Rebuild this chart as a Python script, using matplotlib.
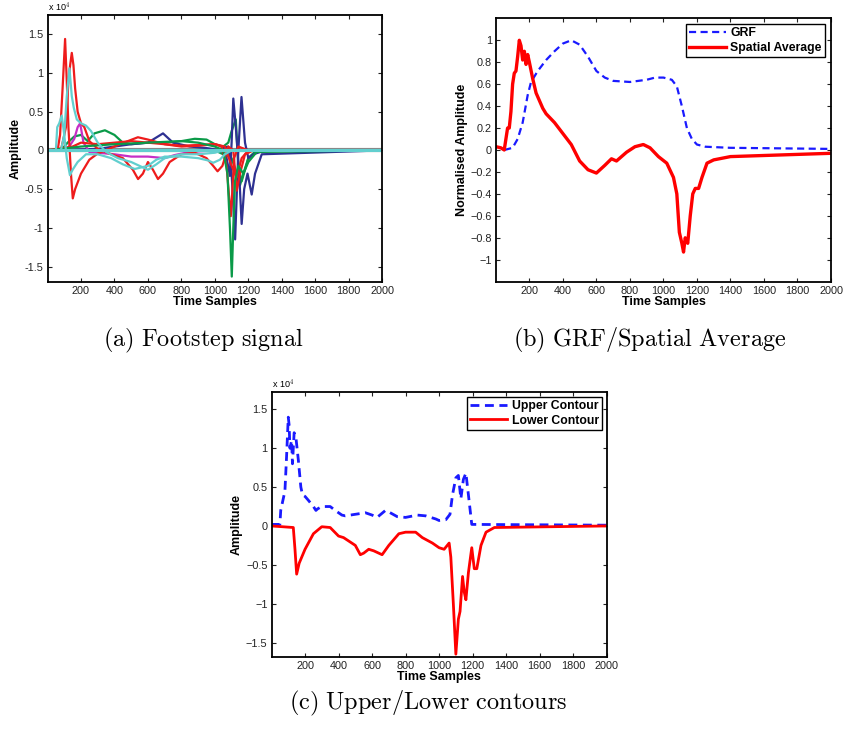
import numpy as np
import matplotlib
matplotlib.use('Agg')
import matplotlib.pyplot as plt

plt.rcParams['font.family'] = ['Liberation Sans', 'DejaVu Sans']
plt.rcParams['mathtext.fontset'] = 'cm'

# ---- data (amplitudes in units of 1e4) ----
time_ticks = [200, 400, 600, 800, 1000, 1200, 1400, 1600, 1800, 2000]
amp_ticks = [-1.5, -1, -0.5, 0, 0.5, 1, 1.5]
amp_labels = ['-1.5', '-1', '-0.5', '0', '0.5', '1', '1.5']
norm_ticks = [-1, -0.8, -0.6, -0.4, -0.2, 0, 0.2, 0.4, 0.6, 0.8, 1]

# (a) individual sensor traces
red1_t = [1, 60, 75, 90, 105, 115, 125, 140, 151, 165, 200, 250, 300, 400, 480, 540, 600, 700, 800, 900, 1000, 1040, 1070, 1085, 1095, 1105, 1115, 1140, 1200, 2000]
red1_v = [0, 0, 0.2, 0.8, 1.44, 0.9, 0.3, -0.3, -0.62, -0.5, -0.3, -0.12, -0.04, 0.05, 0.12, 0.17, 0.14, 0.08, 0.05, 0.06, 0.08, 0.05, -0.2, -0.6, -0.85, -0.5, -0.1, 0.05, 0, 0]
red2_t = [1, 80, 110, 125, 135, 145, 155, 165, 180, 200, 220, 250, 300, 380, 450, 510, 541, 570, 600, 630, 660, 690, 730, 800, 880, 950, 990, 1016, 1045, 1080, 1110, 1131, 1150, 1180, 1230, 2000]
red2_v = [0, 0, 0.3, 0.9, 1.1, 1.26, 1.1, 0.8, 0.5, 0.35, 0.3, 0.12, 0.02, -0.05, -0.1, -0.25, -0.37, -0.3, -0.15, -0.25, -0.37, -0.3, -0.15, -0.05, -0.03, -0.1, -0.2, -0.27, -0.2, 0.05, 0.0, -0.52, -0.3, -0.05, 0, 0]
red3_t = [1, 150, 200, 300, 400, 500, 600, 700, 800, 900, 1000, 1060, 1100, 1130, 1160, 1200, 2000]
red3_v = [0, 0.05, 0.1, 0.08, 0.1, 0.12, 0.1, 0.08, 0.06, 0.07, 0.08, 0.05, -0.2, -0.35, -0.1, 0, 0]
cyan1_t = [1, 50, 58, 70, 85, 100, 115, 134, 150, 180, 230, 300, 380, 450, 521, 560, 600, 650, 700, 800, 900, 960, 990, 1030, 1060, 1100, 2000]
cyan1_v = [0, 0, 0.3, 0.35, 0.45, 0.2, -0.1, -0.32, -0.25, -0.15, -0.05, -0.05, -0.1, -0.18, -0.24, -0.22, -0.2, -0.12, -0.08, -0.08, -0.1, -0.13, -0.16, -0.12, -0.05, 0, 0]
cyan2_t = [1, 80, 100, 115, 131, 145, 157, 175, 200, 230, 260, 300, 350, 420, 500, 550, 600, 650, 700, 800, 900, 1000, 1050, 2000]
cyan2_v = [0, 0, 0.2, 0.7, 1.06, 0.7, 0.55, 0.4, 0.35, 0.32, 0.25, 0.1, -0.02, -0.1, -0.15, -0.2, -0.25, -0.18, -0.1, -0.05, -0.05, -0.03, 0, 0]
green1_t = [1, 80, 120, 160, 200, 240, 280, 343, 400, 450, 500, 600, 700, 800, 880, 950, 1000, 1050, 1080, 1100, 1125, 1140, 1160, 1200, 1250, 2000]
green1_v = [0, 0, 0.1, 0.18, 0.2, 0.12, 0.22, 0.26, 0.2, 0.1, 0.08, 0.1, 0.1, 0.12, 0.15, 0.14, 0.08, 0.05, 0.1, 0.25, 0.4, -0.2, -0.4, -0.1, 0, 0]
green2_t = [1, 200, 400, 600, 800, 900, 1000, 1050, 1075, 1090, 1101, 1110, 1120, 1140, 1170, 1200, 1250, 2000]
green2_v = [0, 0.05, 0.08, 0.1, 0.12, 0.1, 0.05, 0.0, -0.3, -1.0, -1.63, -1.0, -0.4, -0.2, -0.3, -0.15, -0.02, 0]
green3_t = [1, 1000, 1100, 1130, 1150, 1170, 1200, 1250, 2000]
green3_v = [0, 0, -0.1, -0.3, -0.45, -0.3, -0.1, 0, 0]
navy1_t = [1, 300, 500, 600, 690, 750, 850, 950, 1040, 1070, 1090, 1100, 1110, 1125, 1145, 1160, 1175, 1195, 1220, 1240, 1280, 2000]
navy1_v = [0, 0.02, 0.08, 0.1, 0.22, 0.1, 0.05, 0.03, 0, -0.1, -0.33, 0.1, 0.67, 0.3, -0.3, -0.95, -0.5, -0.3, -0.57, -0.3, -0.05, 0]
navy2_t = [1, 1000, 1080, 1100, 1121, 1140, 1159, 1180, 1200, 1230, 1300, 2000]
navy2_v = [0, 0, 0.05, -0.3, -1.15, 0.0, 0.69, 0.1, -0.1, -0.05, 0, 0]
mag_t = [1, 100, 130, 160, 180, 195, 215, 250, 300, 400, 500, 600, 700, 760, 850, 1000, 2000]
mag_v = [0, 0, 0.05, 0.15, 0.3, 0.35, 0.1, -0.02, -0.03, -0.05, -0.08, -0.08, -0.1, -0.06, -0.02, 0, 0]
base_t = [1, 2000]
base_v = [0, 0]

# (b) normalised GRF and spatial average
grf_t = [50, 100, 130, 160, 190, 210, 250, 300, 350, 400, 450, 500, 550, 600, 650, 700, 800, 900, 950, 1000, 1050, 1080, 1110, 1140, 1170, 1200, 1250, 1400, 2000]
grf_v = [0.0, 0.02, 0.1, 0.25, 0.5, 0.62, 0.72, 0.82, 0.9, 0.97, 1.0, 0.96, 0.85, 0.72, 0.66, 0.63, 0.62, 0.64, 0.66, 0.66, 0.64, 0.58, 0.4, 0.2, 0.1, 0.05, 0.03, 0.02, 0.01]
avg_t = [1, 30, 50, 55, 70, 80, 90, 100, 110, 120, 130, 140, 150, 160, 170, 180, 190, 200, 220, 240, 260, 280, 300, 350, 400, 450, 500, 550, 600, 650, 690, 720, 780, 830, 880, 920, 970, 1020, 1060, 1080, 1095, 1110, 1120, 1130, 1145, 1160, 1175, 1190, 1210, 1230, 1260, 1300, 1400, 1600, 2000]
avg_v = [0.03, 0.02, 0.0, 0.05, 0.2, 0.2, 0.35, 0.6, 0.7, 0.72, 0.85, 1.0, 0.95, 0.82, 0.9, 0.78, 0.87, 0.8, 0.65, 0.52, 0.45, 0.38, 0.33, 0.25, 0.15, 0.05, -0.1, -0.18, -0.21, -0.14, -0.08, -0.1, -0.02, 0.03, 0.05, 0.02, -0.06, -0.12, -0.25, -0.4, -0.75, -0.85, -0.93, -0.8, -0.85, -0.6, -0.4, -0.35, -0.35, -0.25, -0.12, -0.09, -0.06, -0.05, -0.03]

# (c) upper / lower contours
upper_t = [1, 50, 55, 65, 80, 90, 100, 105, 110, 120, 125, 130, 135, 145, 160, 175, 185, 200, 220, 250, 265, 275, 300, 350, 380, 420, 440, 500, 560, 600, 630, 680, 700, 750, 800, 870, 920, 980, 1000, 1040, 1065, 1080, 1100, 1115, 1130, 1145, 1160, 1175, 1195, 2000]
upper_v = [0.02, 0.02, 0.2, 0.3, 0.45, 0.9, 1.4, 1.3, 1.0, 1.1, 0.8, 1.0, 1.2, 1.15, 0.85, 0.5, 0.4, 0.38, 0.33, 0.25, 0.2, 0.22, 0.25, 0.25, 0.2, 0.14, 0.13, 0.15, 0.17, 0.14, 0.11, 0.2, 0.18, 0.12, 0.11, 0.14, 0.13, 0.09, 0.07, 0.08, 0.15, 0.4, 0.62, 0.65, 0.35, 0.6, 0.68, 0.4, 0.02, 0.01]
lower_t = [1, 130, 140, 150, 165, 200, 250, 300, 350, 400, 430, 500, 530, 550, 580, 610, 660, 700, 760, 800, 860, 900, 960, 1000, 1030, 1060, 1070, 1085, 1100, 1115, 1125, 1140, 1150, 1160, 1175, 1195, 1210, 1225, 1250, 1280, 1330, 2000]
lower_v = [0, -0.02, -0.3, -0.62, -0.48, -0.3, -0.1, -0.01, -0.02, -0.13, -0.15, -0.25, -0.37, -0.35, -0.3, -0.32, -0.37, -0.25, -0.1, -0.08, -0.08, -0.15, -0.22, -0.28, -0.3, -0.22, -0.4, -1.0, -1.65, -1.2, -1.1, -0.65, -0.85, -0.95, -0.6, -0.28, -0.55, -0.55, -0.25, -0.08, -0.02, 0]

RED = '#ee1c1c'
GREEN = '#0a9a48'
NAVY = '#2e3192'
CYAN = '#62cfcf'
MAGENTA = '#c62fc6'
DASH = (0, (3.2, 2))


def FormatAxes(ax, ylabel):
    ax.set_xlim(1, 2000)
    ax.set_xticks(time_ticks)
    ax.tick_params(direction='in', length=3, width=0.8, top=True, right=True,
                   labelsize=7.8, pad=3, colors='#222222')
    for s in ax.spines.values():
        s.set_linewidth(1.3)
    ax.set_xlabel('Time Samples', fontsize=9, fontweight='bold', labelpad=0)
    ax.set_ylabel(ylabel, fontsize=9, fontweight='bold', labelpad=2)


def Legend(ax, pad):
    leg = ax.legend(loc='upper right', fancybox=False, edgecolor='black', framealpha=1,
                    prop={'weight': 'bold', 'size': 8.8}, handlelength=3.0,
                    borderpad=0.25, labelspacing=0.2, handletextpad=0.4,
                    borderaxespad=pad)
    leg.get_frame().set_linewidth(1.0)


fig = plt.figure(figsize=(8.44, 7.33), dpi=100)

# (a) Footstep signal
ax1 = fig.add_axes([0.0565, 0.6153, 0.3964, 0.3643])
ax1.plot(base_t, base_v, color='#888888', linewidth=3.0)
for t, v, c in [(green1_t, green1_v, GREEN), (green3_t, green3_v, GREEN),
                (navy1_t, navy1_v, NAVY), (navy2_t, navy2_v, NAVY),
                (mag_t, mag_v, MAGENTA), (red3_t, red3_v, RED),
                (red2_t, red2_v, RED), (red1_t, red1_v, RED),
                (green2_t, green2_v, GREEN),
                (cyan1_t, cyan1_v, CYAN), (cyan2_t, cyan2_v, CYAN)]:
    ax1.plot(t, v, color=c, linewidth=1.6)
ax1.plot(base_t, base_v, color=CYAN, linewidth=2.2)
ax1.set_ylim(-1.70, 1.75)
ax1.set_yticks(amp_ticks)
ax1.set_yticklabels(amp_labels)
FormatAxes(ax1, 'Amplitude')
ax1.text(0, 1.003, r'x 10$^4$', transform=ax1.transAxes, fontsize=6.5, va='bottom')

# (b) GRF / Spatial Average
ax2 = fig.add_axes([0.5877, 0.6157, 0.3969, 0.3593])
ax2.plot(grf_t, grf_v, color='#1a1aff', linewidth=1.6, linestyle=DASH, label='GRF')
ax2.plot(avg_t, avg_v, color='#ff0000', linewidth=2.4, label='Spatial Average')
ax2.set_ylim(-1.2, 1.2)
ax2.set_yticks(norm_ticks)
ax2.set_yticklabels([('\u2212%g' % -v if v < 0 else '%g' % v) for v in norm_ticks])
FormatAxes(ax2, 'Normalised Amplitude')
Legend(ax2, 0.5)

# (c) Upper / Lower contours
ax3 = fig.add_axes([0.3219, 0.1033, 0.3969, 0.3615])
ax3.plot(upper_t, upper_v, color='#1a1aff', linewidth=2.0, linestyle=DASH, label='Upper Contour')
ax3.plot(lower_t, lower_v, color='#ff0000', linewidth=2.0, label='Lower Contour')
ax3.set_ylim(-1.69, 1.72)
ax3.set_yticks(amp_ticks)
ax3.set_yticklabels([l.replace('-', '\u2212') for l in amp_labels])
FormatAxes(ax3, 'Amplitude')
ax3.text(0, 1.006, r'x 10$^4$', transform=ax3.transAxes, fontsize=6.5, va='bottom')
Legend(ax3, 0.4)

# sub-figure captions
fig.text(203 / 844, 1 - 340 / 733, r'$\mathrm{(a)\ Footstep\ signal}$', fontsize=17.5, ha='center', va='center')
fig.text(650 / 844, 1 - 340 / 733, r'$\mathrm{(b)\ GRF/Spatial\ Average}$', fontsize=17.5, ha='center', va='center')
fig.text(428 / 844, 1 - 703 / 733, r'$\mathrm{(c)\ Upper/Lower\ contours}$', fontsize=17.5, ha='center', va='center')

fig.savefig('out.png', dpi=100)
